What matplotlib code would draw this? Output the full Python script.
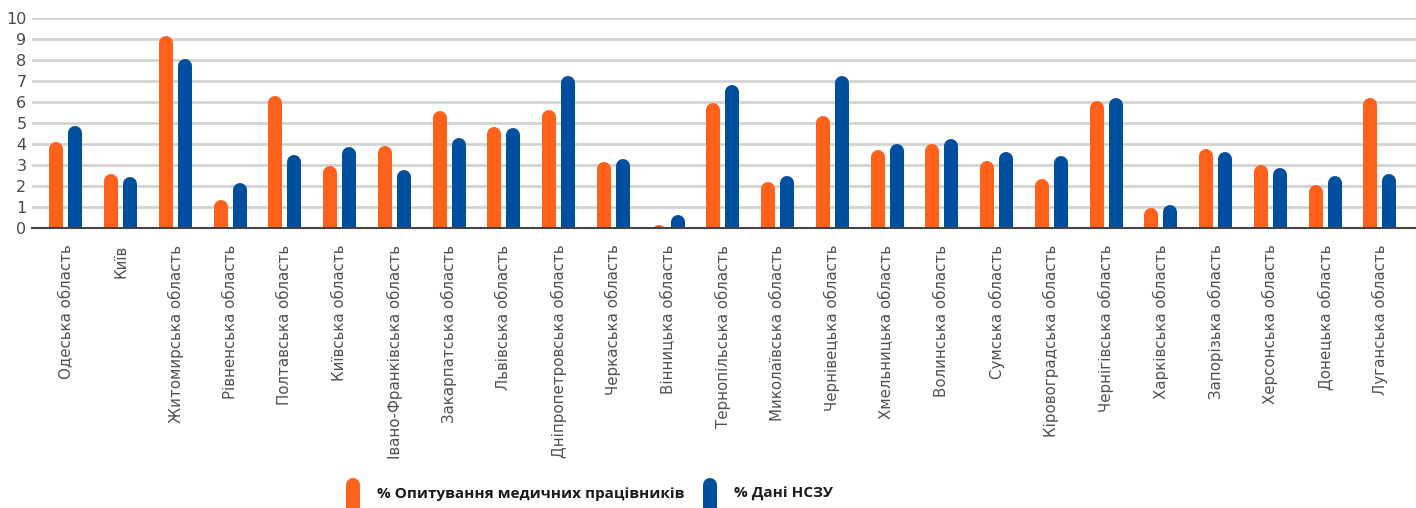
import numpy as np
import matplotlib
matplotlib.use("Agg")
import matplotlib.pyplot as plt
from matplotlib.lines import Line2D

# Regions and the two series (%)
regions = ["Одеська область", "Київ", "Житомирська область", "Рівненська область",
           "Полтавська область", "Київська область", "Івано-Франківська область",
           "Закарпатська область", "Львівська область", "Дніпропетровська область",
           "Черкаська область", "Вінницька область", "Тернопільська область",
           "Миколаївська область", "Чернівецька область", "Хмельницька область",
           "Волинська область", "Сумська область", "Кіровоградська область",
           "Чернігівська область", "Харківська область", "Запорізька область",
           "Херсонська область", "Донецька область", "Луганська область"]
survey = [4.1, 2.55, 9.15, 1.35, 6.3, 2.95, 3.9, 5.55, 4.8, 5.6, 3.15, 0.15, 5.95,
          2.2, 5.35, 3.7, 4.0, 3.2, 2.35, 6.05, 0.95, 3.75, 3.0, 2.05, 6.2]
nhsu = [4.85, 2.45, 8.05, 2.15, 3.5, 3.85, 2.75, 4.3, 4.75, 7.25, 3.3, 0.6, 6.8,
        2.5, 7.25, 4.0, 4.25, 3.6, 3.45, 6.2, 1.1, 3.6, 2.85, 2.5, 2.55]
labels = ["% Опитування медичних працівників", "% Дані НСЗУ"]

orange = "#ff611a"
blue = "#004f9e"

W, H, DPI = 1416, 508, 100
fig = plt.figure(figsize=(W / DPI, H / DPI), dpi=DPI)
ax = fig.add_axes([32 / W, (H - 228) / H, (W - 32) / W, 210 / H])

ymax = 10
ax.set_ylim(0, ymax)
ax.set_xlim(-0.62, len(regions) - 1 + 0.66)

bar_px = 14
bar_pt = bar_px * 72 / DPI
cap = (bar_px / 2) / 210 * ymax  # rounded top radius in data units
off = 0.174
x = np.arange(len(regions))

for vals, col, dx in [(survey, orange, -off), (nhsu, blue, off)]:
    for xi, v in zip(x, vals):
        ax.plot([xi + dx, xi + dx], [-1, v - cap], color=col, lw=bar_pt,
                solid_capstyle="round", zorder=3)

ax.set_yticks(range(0, 11))
ax.yaxis.grid(True, color="#d3d3d3", lw=2)
ax.set_axisbelow(True)
for s in ["top", "right", "left"]:
    ax.spines[s].set_visible(False)
ax.spines["bottom"].set_color("#444444")
ax.spines["bottom"].set_linewidth(1.5)
ax.spines["bottom"].set_zorder(4)

ax.set_xticks(x)
ax.set_xticklabels(regions, rotation=90, fontsize=10.8, color="#505050",
                   family="DejaVu Sans")
ax.tick_params(axis="x", length=0, pad=12)
ax.tick_params(axis="y", length=0, pad=4, labelsize=11.5, labelcolor="#4a4a4a")

# Legend drawn by hand with rounded markers like the bars
leg = [(353, labels[0], orange), (710, labels[1], blue)]
for px, txt, col in leg:
    fig.add_artist(Line2D([px / W, px / W], [(H - 485) / H, -0.05],
                          transform=fig.transFigure, color=col, lw=bar_pt,
                          solid_capstyle="round"))
    fig.text((px + 24) / W, (H - 494) / H, txt, fontsize=11, fontweight="bold",
             family="Open Sans", color="#1a1a1a", va="center", ha="left")

fig.savefig("out.png", dpi=DPI)
